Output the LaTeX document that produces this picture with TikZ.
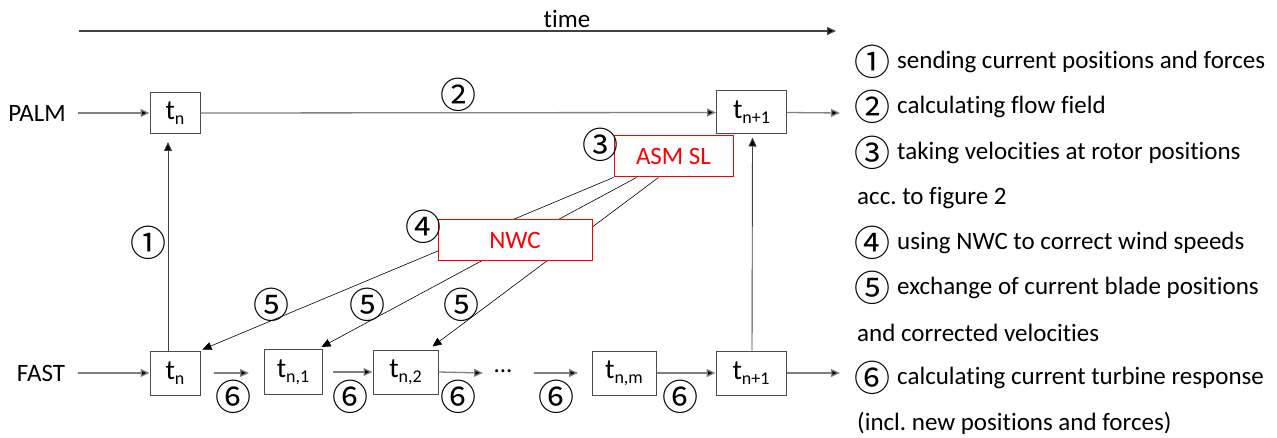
\documentclass[tikz,border=0pt]{standalone}
\usepackage{fontspec}
\setmainfont[RawFeature={-liga;-dlig}]{Carlito}
\newfontfamily\symfont{Noto Sans CJK JP}
\usetikzlibrary{arrows.meta}
\frenchspacing
\newcommand\tsb[1]{t\raisebox{-5pt}{\fontsize{18}{18}\selectfont #1}}
\tikzset{
  lbl/.style={font=\fontsize{25}{28}\selectfont, inner sep=0pt},
  num/.style={font=\symfont\fontsize{36}{36}\selectfont, inner sep=0pt},
  tbox/.style={draw=black!70, line width=1pt, fill=white, inner sep=0pt, font=\fontsize{28}{30}\selectfont},
  rbox/.style={draw=red, line width=1pt, fill=white, text=red, inner sep=0pt, font=\fontsize{25}{28}\selectfont},
  harr/.style={draw=black!50, line width=1.3pt, -{Triangle[length=9pt,width=8pt,fill=black]}},
  varr/.style={draw=black!75, line width=0.9pt, -{Triangle[length=9pt,width=8pt,fill=black]}},
  darr/.style={draw=black, line width=0.6pt, -{Triangle[length=9pt,width=8pt,fill=black]}},
  legend/.style={font=\fontsize{25}{28}\selectfont, inner sep=0pt, anchor=west},
}
\begin{document}
\begin{tikzpicture}[x=1pt,y=-1pt]
\useasboundingbox (0,0) rectangle (1277,438);
% time axis
\coordinate (t0) at (79,31);
\coordinate (t1) at (836,31);
\draw[harr, draw=black!75] (t0) -- (t1);
\node[lbl] (time) at (567,19) {time};
% row labels
\node[lbl] (palm) at (37,113) {PALM};
\node[lbl] (fast) at (41,373) {FAST};
% PALM boxes
\node[tbox, minimum width=50pt, minimum height=41pt] (p1) at (175,113) {\tsb{n}};
\node[tbox, minimum width=70pt, minimum height=43pt] (p2) at (751.5,112.5) {\tsb{n+1}};
% FAST boxes
\node[tbox, minimum width=50pt, minimum height=44pt] (f0) at (175,373) {\tsb{n}};
\node[tbox, minimum width=58pt, minimum height=45pt] (f1) at (293,372) {\tsb{n,1}};
\node[tbox, minimum width=65pt, minimum height=44pt] (f2) at (405.5,372) {\tsb{n,2}};
\node[tbox, minimum width=64pt, minimum height=44pt] (fm) at (624,373) {\tsb{n,m}};
\node[tbox, minimum width=70pt, minimum height=44pt] (f3) at (751,373) {\tsb{n+1}};
% red boxes
\node[rbox, minimum width=119pt, minimum height=41pt] (asm) at (673.5,156.5) {ASM SL};
% PALM line
\coordinate (ps) at (78,113);
\coordinate (pe) at (840,113);
\draw[harr] (ps) -- (p1.west);
\draw[harr] (p1.east) -- (p2.west);
\draw[harr] (p2.east) -- (pe);
% FAST line
\coordinate (fs) at (78,373);
\coordinate (g1a) at (214,373);
\coordinate (g1b) at (249,373);
\coordinate (g3a) at (534,373);
\coordinate (g3b) at (578,373);
\coordinate (fe) at (840,373);
\coordinate (d0) at (483,373);
\draw[harr] (fs) -- (f0.west);
\draw[harr] (g1a) -- (g1b);
\draw[harr] ([xshift=10pt]f1.east) -- (f2.west);
\draw[harr] (f2.east) -- (d0);
\node[lbl] (dots) at (503,371) {...};
\draw[harr] (g3a) -- (g3b);
\draw[harr] (fm.east) -- (f3.west);
\draw[harr] (f3.east) -- (fe);
% vertical exchange
\draw[varr] ([xshift=-7pt]f0.north) -- ([xshift=-7pt,yshift=-8pt]p1.south);
\draw[varr] ([xshift=1pt]f3.north) -- ([xshift=1pt,yshift=-3pt]p2.south);
% ASM -> FAST lines
\draw[darr] (asm.south west) -- ([xshift=2pt,yshift=1pt]f0.north east);
\draw[darr] ([xshift=23pt]asm.south west) -- ([xshift=-1pt,yshift=2pt]f1.north east);
\draw[darr] ([xshift=45pt]asm.south west) -- ([xshift=-6pt,yshift=3pt]f2.north east);
\node[rbox, minimum width=154pt, minimum height=41pt] (nwc) at (515,240.5) {NWC};
% circled numbers in diagram
\node[num] (n2) at (458,95) {②};
\node[num] (n3) at (600,145) {③};
\node[num] (n4) at (423,227) {④};
\node[num] (n1) at (148,243) {①};
\node[num] (n5a) at (271,305) {⑤};
\node[num] (n5b) at (367,305) {⑤};
\node[num] (n5c) at (461,305) {⑤};
\node[num] (n6a) at (233,397) {⑥};
\node[num] (n6b) at (350,397) {⑥};
\node[num] (n6c) at (458,397) {⑥};
\node[num] (n6d) at (556,397) {⑥};
\node[num] (n6e) at (680,397) {⑥};
% legend
\node[num] (l1) at (872,62) {①};
\node[legend] (lt1) at (897,62) {sending current positions and forces};
\node[num] (l2) at (872,107) {②};
\node[legend] (lt2) at (897,107) {calculating flow field};
\node[num] (l3) at (872,153) {③};
\node[legend] (lt3) at (897,153) {taking velocities at rotor positions};
\node[legend] (lt3b) at (857,198) {acc. to figure 2};
\node[num] (l4) at (872,243) {④};
\node[legend] (lt4) at (897,243) {using NWC to correct wind speeds};
\node[num] (l5) at (872,288) {⑤};
\node[legend] (lt5) at (897,288) {exchange of current blade positions};
\node[legend] (lt5b) at (857,333) {and corrected velocities};
\node[num] (l6) at (872,378) {⑥};
\node[legend] (lt6) at (897,378) {calculating current turbine response};
\node[legend] (lt6b) at (857,423) {(incl. new positions and forces)};
\end{tikzpicture}
\end{document}
